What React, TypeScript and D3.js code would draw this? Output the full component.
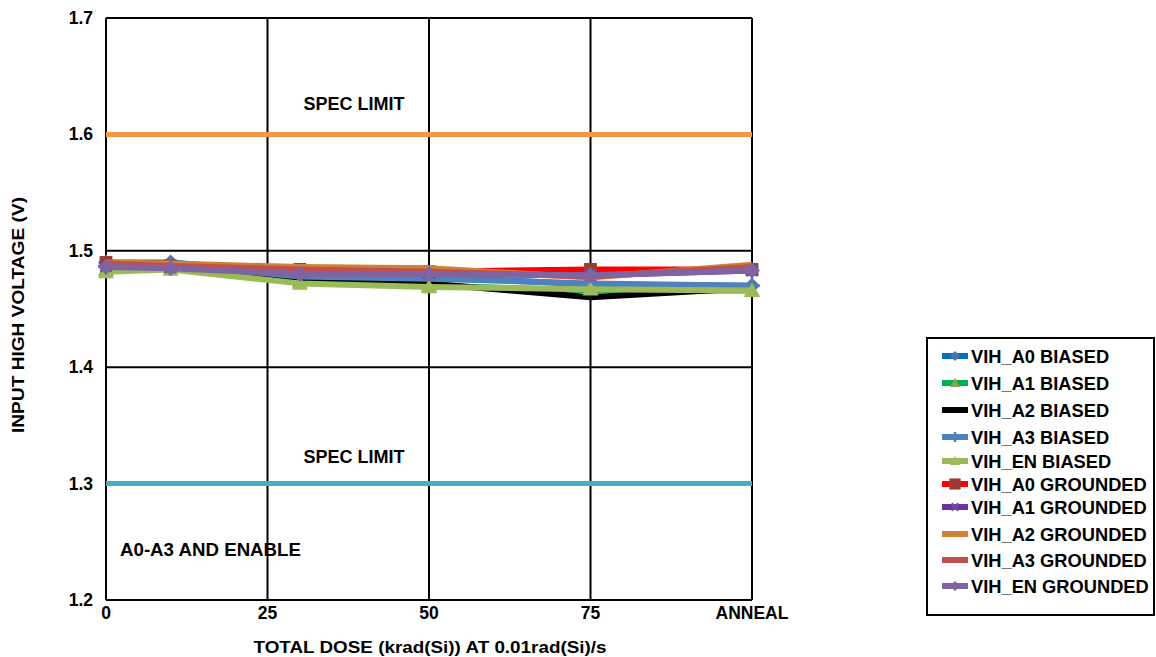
import React from "react";
import * as d3 from "d3";

const xTicks = [0, 25, 50, 75, 100];
const xTickLabels = ["0", "25", "50", "75", "ANNEAL"];
const yTicks = [1.2, 1.3, 1.4, 1.5, 1.6, 1.7];
const doses = [0, 10, 30, 50, 75, 100];

const a0Biased = [1.490, 1.490, 1.481, 1.478, 1.471, 1.470];
const a1Biased = [1.484, 1.486, 1.474, 1.470, 1.466, 1.466];
const a2Biased = [1.485, 1.486, 1.476, 1.472, 1.460, 1.468];
const a3Biased = [1.487, 1.488, 1.478, 1.476, 1.472, 1.470];
const enBiased = [1.482, 1.484, 1.472, 1.469, 1.467, 1.466];
const a0Grounded = [1.490, 1.487, 1.484, 1.482, 1.484, 1.484];
const a1Grounded = [1.487, 1.486, 1.482, 1.481, 1.479, 1.483];
const a2Grounded = [1.490, 1.489, 1.486, 1.485, 1.477, 1.488];
const a3Grounded = [1.489, 1.487, 1.484, 1.482, 1.478, 1.486];
const enGrounded = [1.486, 1.485, 1.480, 1.480, 1.479, 1.483];

const seriesNames = [
  "VIH_A0 BIASED", "VIH_A1 BIASED", "VIH_A2 BIASED", "VIH_A3 BIASED", "VIH_EN BIASED",
  "VIH_A0 GROUNDED", "VIH_A1 GROUNDED", "VIH_A2 GROUNDED", "VIH_A3 GROUNDED", "VIH_EN GROUNDED",
];
const seriesValues = [a0Biased, a1Biased, a2Biased, a3Biased, enBiased, a0Grounded, a1Grounded, a2Grounded, a3Grounded, enGrounded];
const lineColors = ["#0070C0", "#00B050", "#000000", "#4F81BD", "#9BBB59", "#FF0000", "#7030A0", "#D07F36", "#C0504D", "#8064A2"];
const markerColors = ["#4F6FA8", "#8CA050", null, "#4F81BD", "#9BBB59", "#9B3B35", "#6A4A9A", null, null, "#8064A2"];
const markerTypes = ["diamond", "triangle", "none", "plus", "triangle", "square", "cross", "none", "none", "diamond"];

const specLimits = [1.6, 1.3];
const specColors = ["#F79646", "#4BACC6"];

const W = 1156, H = 657;
const left = 106, right = 752, top = 18, bottom = 600;

function Marker({ type, x, y, color, size }: { type: string; x: number; y: number; color: string; size: number }) {
  const s = size;
  if (type === "diamond") return <path d={`M${x},${y - s}L${x + s},${y}L${x},${y + s}L${x - s},${y}Z`} fill={color} />;
  if (type === "triangle") return <path d={`M${x},${y - s}L${x + s},${y + s * 0.8}L${x - s},${y + s * 0.8}Z`} fill={color} />;
  if (type === "square") return <rect x={x - s * 0.8} y={y - s * 0.8} width={s * 1.6} height={s * 1.6} fill={color} />;
  if (type === "plus") return <path d={`M${x - s},${y}H${x + s}M${x},${y - s}V${y + s}`} stroke={color} strokeWidth={2.5} />;
  if (type === "cross") return <path d={`M${x - s * 0.7},${y - s * 0.7}L${x + s * 0.7},${y + s * 0.7}M${x + s * 0.7},${y - s * 0.7}L${x - s * 0.7},${y + s * 0.7}`} stroke={color} strokeWidth={2.5} />;
  return null;
}

export default function App() {
  const xs = d3.scaleLinear().domain([0, 100]).range([left, right]);
  const ys = d3.scaleLinear().domain([1.2, 1.7]).range([bottom, top]);
  const line = d3.line<number>().x((_, i) => xs(doses[i])).y((d) => ys(d));
  const font = "Arial, 'Liberation Sans', Helvetica, sans-serif";
  const legendY = [356, 383, 410, 437, 461, 484, 507, 534, 560, 586];

  return (
    <svg width={W} height={H} style={{ position: "absolute", left: 0, top: 0, background: "#fff" }} fontFamily={font}>
      <rect width={W} height={H} fill="#fff" />
      {yTicks.map((t) => (
        <line key={"gy" + t} x1={left} x2={right} y1={ys(t)} y2={ys(t)} stroke="#000" strokeWidth={2} />
      ))}
      {xTicks.map((t) => (
        <line key={"gx" + t} x1={xs(t)} x2={xs(t)} y1={top} y2={bottom} stroke="#000" strokeWidth={2} />
      ))}
      {specLimits.map((v, i) => (
        <line key={"s" + i} x1={left} x2={right} y1={ys(v)} y2={ys(v)} stroke={specColors[i]} strokeWidth={5} />
      ))}
      <text x={354} y={110} textAnchor="middle" fontSize={18} fontWeight="bold">SPEC LIMIT</text>
      <text x={354} y={463} textAnchor="middle" fontSize={18} fontWeight="bold">SPEC LIMIT</text>
      <text x={120} y={556} fontSize={18} fontWeight="bold" textLength={181} lengthAdjust="spacingAndGlyphs">A0-A3 AND ENABLE</text>
      {seriesValues.map((vals, i) => (
        <g key={"ser" + i}>
          <path d={line(vals) || ""} fill="none" stroke={lineColors[i]} strokeWidth={6} strokeLinejoin="round" />
          {markerTypes[i] !== "none" && vals.map((v, j) => (
            <Marker key={j} type={markerTypes[i]} x={xs(doses[j])} y={ys(v)} color={markerColors[i] || lineColors[i]} size={8} />
          ))}
        </g>
      ))}
      {yTicks.map((t) => (
        <text key={"yl" + t} x={93} y={ys(t) + 6} textAnchor="end" fontSize={17.5} fontWeight="bold">{t.toFixed(1)}</text>
      ))}
      {xTicks.map((t, i) => (
        <text key={"xl" + t} x={xs(t)} y={619} textAnchor="middle" fontSize={17.5} fontWeight="bold">{xTickLabels[i]}</text>
      ))}
      <text x={430} y={653} textAnchor="middle" fontSize={17} fontWeight="bold" textLength={353} lengthAdjust="spacingAndGlyphs">TOTAL DOSE (krad(Si)) AT 0.01rad(Si)/s</text>
      <text transform={`translate(24,${315}) rotate(-90)`} textAnchor="middle" fontSize={17} fontWeight="bold" textLength={236} lengthAdjust="spacingAndGlyphs">INPUT HIGH VOLTAGE (V)</text>
      <rect x={927} y={338} width={227} height={277} fill="#fff" stroke="#000" strokeWidth={2} />
      {seriesNames.map((n, i) => (
        <g key={"lg" + i}>
          <line x1={942} x2={968} y1={legendY[i]} y2={legendY[i]} stroke={lineColors[i]} strokeWidth={6} />
          {markerTypes[i] !== "none" && (
            <Marker type={markerTypes[i]} x={955} y={legendY[i]} color={markerColors[i] || lineColors[i]} size={markerTypes[i] === "square" ? 7 : 5} />
          )}
          <text x={971} y={legendY[i] + 6.5} fontSize={18.3} fontWeight="bold">{n}</text>
        </g>
      ))}
    </svg>
  );
}
